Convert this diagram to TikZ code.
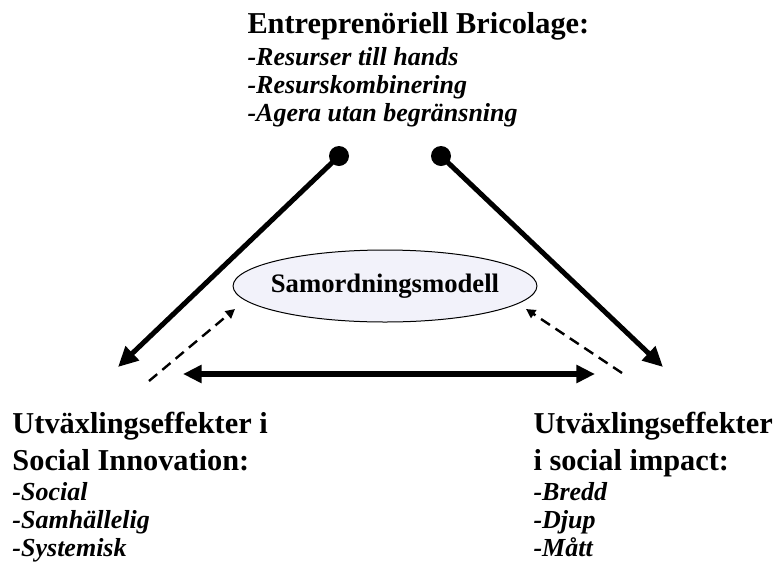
\documentclass[tikz,border=0pt]{standalone}
\usepackage{fontspec}
\setmainfont{Liberation Serif}
\usetikzlibrary{arrows.meta,shapes.geometric}

\definecolor{ellfill}{RGB}{242,242,250}

\tikzset{every picture/.style={line width=0.75pt}}
\tikzset{
  head/.style={anchor=base west,inner sep=0pt,font=\fontsize{22.75}{27}\selectfont\bfseries},
  item/.style={anchor=base west,inner sep=0pt,font=\fontsize{19.5}{21}\selectfont\bfseries\itshape},
  knob/.style={circle,fill=black,inner sep=0pt,minimum size=15pt},
  bigarrow/.style={line width=3.75pt,-{Triangle[length=15pt,width=14pt]}},
  twoway/.style={line width=4pt,{Triangle[length=14pt,width=13pt]}-{Triangle[length=14pt,width=13pt]}},
  dasharrow/.style={line width=1.8pt,dash pattern=on 8pt off 5pt,-{Triangle[length=7pt,width=7pt]}}
}

\begin{document}
\begin{tikzpicture}[x=0.75pt,y=0.75pt,yscale=-1,xscale=1]
\useasboundingbox (0,0) rectangle (776,569);

%Text Node
\node[head] (bric) at (247,33) {Entrepren\"oriell Bricolage:};
\node[item] (bric1) at (247,65) {-Resurser till hands};
\node[item] (bric2) at (247,93) {-Resurskombinering};
\node[item] (bric3) at (247,121) {-Agera utan begr\"ansning};

%Text Node
\node[head] (innov) at (12,433) {Utv\"axlingseffekter i};
\node[head] (innov0) at (12,470) {Social Innovation:};
\node[item] (innov1) at (12,500) {-Social};
\node[item] (innov2) at (12,528) {-Samh\"allelig};
\node[item] (innov3) at (12,556) {-Systemisk};

%Text Node
\node[head] (impact) at (533,433) {Utv\"axlingseffekter};
\node[head] (impact0) at (533,470) {i social impact:};
\node[item] (impact1) at (533,500) {-Bredd};
\node[item] (impact2) at (533,528) {-Djup};
\node[item] (impact3) at (533,556) {-M\aa tt};

%Shape: Ellipse
\node[ellipse,draw,fill=ellfill,minimum width=225pt,minimum height=54pt,inner xsep=-5pt,inner ysep=0pt,
  font=\fontsize{20}{22}\selectfont\bfseries] (model) at (385,286) {Samordningsmodell};

%Shape: Circle
\node[knob] (dotL) at (339,156) {};
\node[knob] (dotR) at (441,156) {};

\coordinate (tipL) at (118,367);
\coordinate (tipR) at (663,367);
\coordinate (hL) at (183,374);
\coordinate (hR) at (595,374);
\coordinate (dashL) at (149,381);
\coordinate (inL) at (235,309);
\coordinate (dashR) at (622,373);
\coordinate (inR) at (526,309);

%Straight Lines
\draw[bigarrow] (dotL.center) -- (tipL);
\draw[bigarrow] (dotR.center) -- (tipR);
%Straight Lines
\draw[twoway] (hL) -- (hR);
%Straight Lines
\draw[dasharrow] (dashL) -- (inL);
\draw[dasharrow] (dashR) -- (inR);

\end{tikzpicture}
\end{document}
